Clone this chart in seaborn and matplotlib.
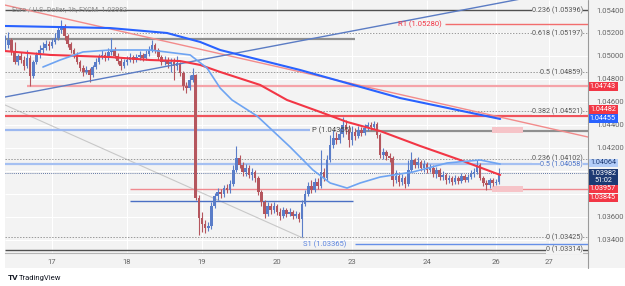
import numpy as np
import pandas as pd
import matplotlib
matplotlib.use("Agg")
import matplotlib.pyplot as plt
from matplotlib.patches import Rectangle
from matplotlib.lines import Line2D
import seaborn as sns

# --- EUR/USD 1h candles, Dec 16 (afternoon) -> Dec 26
first_open = 1.05052
closes = [
    1.05096, 1.05139, 1.05035, 1.04948, 1.05000, 1.04965, 1.04913, 1.04982, 1.04826, 1.04948, 1.05009, 1.05052, 1.05069, 1.05104, 1.05087,
    1.05122, 1.05156, 1.05226, 1.05261, 1.05174, 1.05104, 1.05052, 1.05017, 1.04948, 1.04895, 1.04861, 1.04878, 1.04835, 1.04904, 1.04948, 1.04991,
    1.05009, 1.04982, 1.05035, 1.05052, 1.05000, 1.04956, 1.04913, 1.04948,
    1.04965, 1.04991, 1.04965, 1.04991, 1.05009, 1.04982, 1.05017, 1.05052, 1.05096, 1.05052, 1.04991, 1.04948, 1.04965, 1.04930, 1.04948, 1.04913,
    1.04939, 1.04852, 1.04739, 1.04721, 1.04791, 1.04835, 1.03764, 1.03590,
    1.03538, 1.03503, 1.03521, 1.03695, 1.03782, 1.03817, 1.03799, 1.03851, 1.03834, 1.03886, 1.04008, 1.04112, 1.04052, 1.03991, 1.04025, 1.03965,
    1.03991, 1.03938, 1.03817, 1.03730, 1.03625, 1.03695, 1.03660, 1.03695,
    1.03643, 1.03608, 1.03660, 1.03625, 1.03643, 1.03608, 1.03625, 1.03582, 1.03712, 1.03799, 1.03869, 1.03834, 1.03904, 1.03869, 1.03991, 1.03938,
    1.04095, 1.04226, 1.04286, 1.04269, 1.04321, 1.04400, 1.04356, 1.04269,
    1.04339, 1.04304, 1.04356, 1.04330, 1.04373, 1.04400, 1.04382, 1.04408, 1.04313, 1.04139, 1.04165, 1.04130, 1.04112, 1.03921, 1.03956, 1.03904,
    1.03938, 1.03886, 1.04008, 1.04095, 1.04052, 1.04078, 1.04025, 1.04060,
    1.04008, 1.04025, 1.03973, 1.04008, 1.03947, 1.03965, 1.03921, 1.03938, 1.03904, 1.03938, 1.03912, 1.03956, 1.03921, 1.03947, 1.03973, 1.03991,
    1.04052, 1.03938, 1.03895, 1.03878, 1.03921, 1.03895, 1.03904, 1.03982,
]
highs = [
    1.05182, 1.05209, 1.05156, 1.05122, 1.05017, 1.05035, 1.05000, 1.05052, 1.05009, 1.04965, 1.05035, 1.05096, 1.05122, 1.05139, 1.05130,
    1.05156, 1.05200, 1.05252, 1.05313, 1.05278, 1.05191, 1.05122, 1.05069, 1.05035, 1.04965, 1.04922, 1.04913, 1.04895, 1.04922, 1.04982, 1.05017,
    1.05052, 1.05035, 1.05069, 1.05156, 1.05078, 1.05026, 1.04982, 1.04974,
    1.05000, 1.05026, 1.05009, 1.05017, 1.05043, 1.05026, 1.05052, 1.05087, 1.05139, 1.05113, 1.05069, 1.05009, 1.05000, 1.04991, 1.04982, 1.04982,
    1.05000, 1.04948, 1.04869, 1.04774, 1.04835, 1.04895, 1.04843, 1.03791,
    1.03643, 1.03573, 1.03556, 1.03730, 1.03808, 1.03851, 1.03843, 1.03878, 1.03886, 1.03921, 1.04052, 1.04217, 1.04139, 1.04078, 1.04060, 1.04052,
    1.04025, 1.04008, 1.03956, 1.03834, 1.03747, 1.03730, 1.03721, 1.03730,
    1.03712, 1.03677, 1.03686, 1.03677, 1.03677, 1.03660, 1.03651, 1.03643, 1.03747, 1.03834, 1.03904, 1.03921, 1.03938, 1.03938, 1.04182, 1.04025,
    1.04139, 1.04313, 1.04356, 1.04339, 1.04373, 1.04469, 1.04443, 1.04400,
    1.04391, 1.04373, 1.04391, 1.04382, 1.04408, 1.04426, 1.04426, 1.04434, 1.04426, 1.04330, 1.04199, 1.04182, 1.04156, 1.04130, 1.04008, 1.03991,
    1.03973, 1.03956, 1.04095, 1.04165, 1.04112, 1.04121, 1.04095, 1.04095,
    1.04078, 1.04060, 1.04052, 1.04034, 1.04025, 1.03999, 1.03982, 1.03965, 1.03956, 1.03965, 1.03956, 1.03982, 1.03973, 1.03973, 1.04008, 1.04025,
    1.04095, 1.04069, 1.03956, 1.03921, 1.03938, 1.03938, 1.03930, 1.04025,
]
lows = [
    1.05052, 1.05069, 1.05009, 1.04930, 1.04922, 1.04939, 1.04878, 1.04895, 1.04739, 1.04808, 1.04930, 1.04982, 1.05026, 1.05052, 1.05052,
    1.05069, 1.05104, 1.05139, 1.05200, 1.05139, 1.05078, 1.05026, 1.04982, 1.04930, 1.04869, 1.04826, 1.04843, 1.04774, 1.04817, 1.04887, 1.04930,
    1.04974, 1.04956, 1.04965, 1.05009, 1.04982, 1.04930, 1.04878, 1.04895,
    1.04922, 1.04948, 1.04939, 1.04948, 1.04965, 1.04956, 1.04965, 1.05000, 1.05035, 1.05026, 1.04965, 1.04922, 1.04922, 1.04895, 1.04861, 1.04791,
    1.04878, 1.04826, 1.04704, 1.04678, 1.04704, 1.04774, 1.03747, 1.03443,
    1.03469, 1.03460, 1.03477, 1.03495, 1.03677, 1.03747, 1.03764, 1.03773, 1.03808, 1.03808, 1.03869, 1.03991, 1.04025, 1.03956, 1.03956, 1.03938,
    1.03921, 1.03904, 1.03791, 1.03695, 1.03590, 1.03608, 1.03625, 1.03634,
    1.03617, 1.03573, 1.03590, 1.03599, 1.03608, 1.03582, 1.03590, 1.03556, 1.03425, 1.03695, 1.03782, 1.03808, 1.03817, 1.03843, 1.03851, 1.03912,
    1.03921, 1.04078, 1.04199, 1.04234, 1.04243, 1.04295, 1.04321, 1.04208,
    1.04226, 1.04269, 1.04286, 1.04304, 1.04313, 1.04347, 1.04356, 1.04365, 1.04286, 1.04112, 1.04104, 1.04095, 1.04078, 1.03869, 1.03895, 1.03869,
    1.03878, 1.03851, 1.03869, 1.03991, 1.04025, 1.04025, 1.03999, 1.03991,
    1.03982, 1.03991, 1.03947, 1.03938, 1.03921, 1.03921, 1.03886, 1.03895, 1.03878, 1.03886, 1.03886, 1.03895, 1.03904, 1.03904, 1.03930, 1.03947,
    1.03973, 1.03921, 1.03869, 1.03834, 1.03851, 1.03869, 1.03878, 1.03886,
]

# --- moving averages (bar index, price)
ma_blue_x = [-15.0, 18.6, 36.8, 47.4, 53.8, 79.4, 95.4, 111.4, 143.4]
ma_blue_y = [1.05261, 1.05243, 1.05200, 1.05122, 1.05052, 1.04878, 1.04756, 1.04634, 1.04452]
ma_red_x = [-15.0, -0.6, 18.6, 31.4, 41.0, 47.4, 53.8, 66.6, 75.2, 85.8, 94.4, 105.0, 117.8, 130.6, 143.4]
ma_red_y = [1.05043, 1.05009, 1.04991, 1.04965, 1.04956, 1.04922, 1.04861, 1.04748, 1.04617, 1.04513,
            1.04426, 1.04347, 1.04217, 1.04095, 1.03965]
ma_light_x = [-2.9, 2.6, 9.9, 18.6, 31.4, 44.2, 49.6, 53.8, 57.6, 65.6, 76.2, 83.5, 89.0, 94.4, 98.6,
              105.0, 115.5, 126.4, 137.0, 143.4]
ma_light_y = [1.04904, 1.04965, 1.05035, 1.05052, 1.05052, 1.05009, 1.04895, 1.04721, 1.04617, 1.04478,
              1.04208, 1.04008, 1.03895, 1.03851, 1.03895, 1.03947, 1.03991, 1.04069, 1.04095, 1.04060]

# --- fib / pivot levels
fib_levels = [1.05396, 1.05197, 1.04859, 1.04521, 1.04102, 1.04058, 1.03425, 1.03314]
fib_labels = ["0.236 (1.05396)", "0.618 (1.05197)", "0.5 (1.04859)", "0.382 (1.04521)",
              "0.236 (1.04102)", "0.5 (1.04058)", "0 (1.03425)", "0 (1.03314)"]
r1, pivot, s1 = 1.05280, 1.04355, 1.03365
last_price = 1.03982

day_pos = [0, 24, 48, 72, 96, 120, 142, 159]
day_labels = ["17", "18", "19", "20", "23", "24", "26", "27"]
price_ticks = [1.034, 1.036, 1.042, 1.044, 1.046, 1.048, 1.050, 1.052, 1.054]
grid_prices = [1.034, 1.036, 1.038, 1.040, 1.042, 1.044, 1.046, 1.048, 1.050, 1.052, 1.054]

box_values = ["1.04743", "1.04482", "1.04455", "1.04064", "1.03982\n51:02", "1.03957", "1.03845"]

#%%
bars = np.arange(-15, 144)
df = pd.DataFrame({"bar": bars, "close": closes, "high": highs, "low": lows})
df["open"] = [first_open] + closes[:-1]

sns.set_style("white")
plt.rcParams["font.family"] = ["Roboto", "DejaVu Sans"]

W, H = 625, 286
fig = plt.figure(figsize=(6.25, 2.86), dpi=100)
fig.patch.set_facecolor("white")
BG = "#f3f3f3"
fig.patches.append(Rectangle((5 / W, 1 - 268 / H), 620 / W, 268 / H, transform=fig.transFigure,
                             fc=BG, ec="none", zorder=-10))

ax = fig.add_axes([5 / W, 1 - 253 / H, 583 / W, 253 / H])
ax.set_facecolor(BG)
X0, X1 = -15.04, 171.5
ax.set_xlim(X0, X1)
ax.set_ylim(1.03286, 1.05487)

# white grid
ax.hlines(grid_prices, X0, X1, color="white", lw=0.8, zorder=0.5)
ax.vlines(day_pos, 1.03286, 1.05487, color="white", lw=0.8, zorder=0.5)

# horizontal drawings
ax.hlines([1.05396, 1.03314], X0, X1, color="#505050", lw=1, zorder=3)
for lv in [1.05197, 1.04859, 1.04521, 1.04102, 1.03425]:
    ax.hlines(lv, X0, X1, color="#9a9a9a", lw=0.7, linestyles=(0, (1.5, 1.5)), zorder=3)
ax.hlines(1.05148, X0, 97, color="#8f8f8f", lw=1.6, zorder=3)
ax.hlines(1.04350, 97, X1, color="#8f8f8f", lw=1.6, zorder=3)
ax.hlines(r1, 125.9, X1, color="#f26d6d", lw=1, zorder=3)
ax.hlines(1.04743, -8, X1, color="#f5a3a8", lw=1.6, zorder=3)
ax.hlines(1.04482, X0, X1, color="#f0545c", lw=1.6, zorder=3)
ax.hlines(pivot, X0, 82.6, color="#9cb8f0", lw=1.6, zorder=3)
ax.hlines(1.04058, X0, X1, color="#a5c0f2", lw=1.6, zorder=3)
ax.hlines(1.03845, 25, X1, color="#f08a90", lw=1, zorder=3)
ax.hlines(1.03739, 25, 96.3, color="#4a6fc4", lw=1, zorder=3)
ax.hlines(s1, 97, X1, color="#6690e8", lw=1, zorder=3)
ax.hlines(last_price, X0, X1, color="#34508a", lw=0.6, linestyles=(0, (1, 1.5)), zorder=3)

ax.add_patch(Rectangle((140.8, 1.04330), 9.9, 0.00052, fc="#f6c4c8", ec="none", zorder=3))
ax.add_patch(Rectangle((140.8, 1.03817), 9.9, 0.00052, fc="#f6c4c8", ec="none", zorder=3))

# trend lines
ax.plot([X0, X1], [1.05443, 1.04295], color="#f28b8b", lw=1, zorder=5)
ax.plot([X0, 155], [1.04643, 1.05522], color="#5b7cc4", lw=1, zorder=5)
ax.plot([X0, 80.3], [1.04574, 1.03416], color="#c8c8c8", lw=0.8, zorder=2)

# candles
up = df["close"] >= df["open"]
col = np.where(up, "#5a7dc8", "#b5565e")
ax.vlines(df["bar"], df["low"], df["high"], colors=col, lw=0.8, zorder=4)
body = np.maximum((df["close"] - df["open"]).abs(), 0.00003)
ax.bar(df["bar"], body, bottom=np.minimum(df["open"], df["close"]), width=0.82,
       color=col, linewidth=0, zorder=4)

# moving averages
sns.lineplot(x=ma_blue_x, y=ma_blue_y, ax=ax, color="#2962ff", lw=1.5, sort=False, zorder=6)
sns.lineplot(x=ma_red_x, y=ma_red_y, ax=ax, color="#f23645", lw=1.5, sort=False, zorder=6)
sns.lineplot(x=ma_light_x, y=ma_light_y, ax=ax, color="#6ea4f2", lw=1.2, sort=False, zorder=6)

# level labels
for lv, lab in zip(fib_levels, fib_labels):
    c = "#4a72c9" if lab == "0.5 (1.04058)" else "#555555"
    dy = -0.00006 if lab == "0.5 (1.04058)" else (0.00004 if lab == "0.236 (1.04102)" else 0)
    ax.text(169.9, lv + dy, lab, ha="right", va="center", fontsize=5.2, color=c, zorder=7,
            bbox=dict(fc=BG, ec="none", pad=0.2))
ax.text(124.8, r1, "R1 (1.05280)", ha="right", va="center", fontsize=5.5, color="#f23645", zorder=7)
ax.text(83.2, pivot, "P (1.04355)", ha="left", va="center", fontsize=5.5, color="#444444", zorder=7)
ax.text(94.1, s1, "S1 (1.03365)", ha="right", va="center", fontsize=5.5, color="#5b84e0", zorder=7)
ax.text(0.012, 1 - 10 / 253, "Euro / U.S. Dollar, 1h, FXCM  1.03982", transform=ax.transAxes,
        fontsize=5, color="#888888", va="center", zorder=7)

# axes
ax.set_xticks(day_pos)
ax.set_xticklabels(day_labels)
ax.yaxis.tick_right()
ax.set_yticks(price_ticks)
ax.set_yticklabels([f"{v:.5f}" for v in price_ticks])
ax.tick_params(axis="x", length=0, pad=4, labelsize=5.5, labelcolor="#666666")
ax.tick_params(axis="y", length=0, pad=6, labelsize=5.5, labelcolor="#666666")
ax.grid(False)
for s in ["top", "left", "right"]:
    ax.spines[s].set_visible(False)
ax.spines["bottom"].set_color("#b5b5b5")
fig.lines.append(Line2D([588 / W, 588 / W], [1 - 268 / H, 1], transform=fig.transFigure,
                        color="#9a9a9a", lw=0.8))

# price scale boxes
box_rows = [(82, 91), (105.5, 114), (114.5, 123), (159, 167), (169, 184.5), (185, 193), (193.5, 202)]
box_fc = ["#f23645", "#f23645", "#2962ff", "#b3cdf8", "#1d3a73", "#f23645", "#f23645"]
box_tc = ["white", "white", "white", "#1d3a73", "white", "white", "white"]
for (t, b), fc, tc, txt in zip(box_rows, box_fc, box_tc, box_values):
    fig.patches.append(Rectangle((588.5 / W, 1 - b / H), 29 / W, (b - t) / H, transform=fig.transFigure,
                                 fc=fc, ec="none", zorder=5))
    fig.text(603 / W, 1 - (t + b) / 2 / H, txt, ha="center", va="center", fontsize=5.2, color=tc,
             linespacing=1.05, zorder=6)

fig.text(8 / W, 1 - 278 / H, "TV", fontsize=6, fontweight="bold", color="#131722", va="center")
fig.text(19 / W, 1 - 278 / H, "TradingView", fontsize=5.5, color="#131722", va="center")

fig.savefig("out.png", dpi=100, facecolor=fig.get_facecolor())
